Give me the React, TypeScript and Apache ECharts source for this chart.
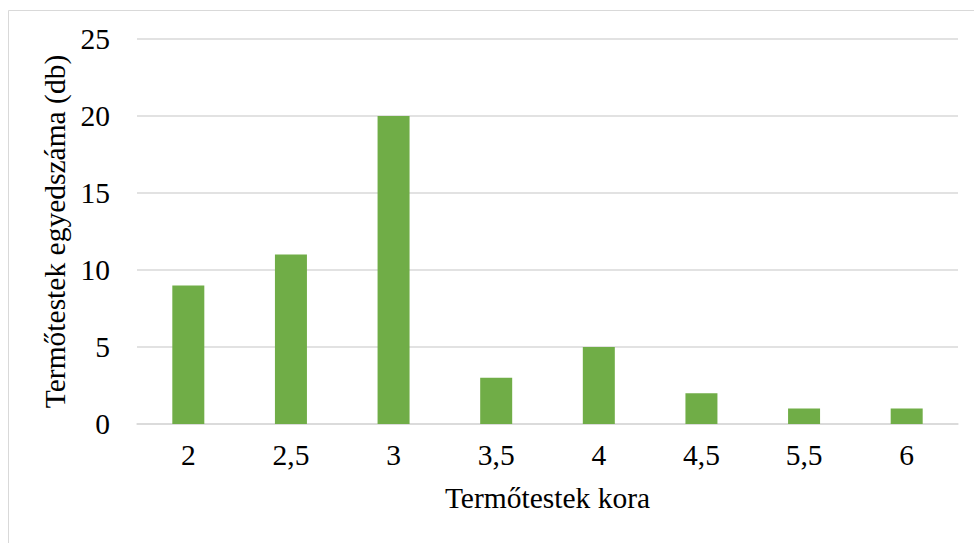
import React, { useEffect, useRef } from "react";
import * as echarts from "echarts";

const categories = ["2", "2,5", "3", "3,5", "4", "4,5", "5,5", "6"];
const values = [9, 11, 20, 3, 5, 2, 1, 1];
const yTicks = { min: 0, max: 25, interval: 5 };

export default function App() {
  const ref = useRef<HTMLDivElement>(null);
  useEffect(() => {
    const chart = echarts.init(ref.current!, null, { renderer: "svg" });
    const font = "'Liberation Serif', 'Times New Roman', serif";
    const fs = 29.5;
    chart.setOption({
      animation: false,
      backgroundColor: "#ffffff",
      textStyle: { fontFamily: font },
      grid: { left: 137, right: 16, top: 39, bottom: 119, containLabel: false },
      graphic: [
        {
          type: "rect",
          shape: { x: 8.5, y: 10.5, width: 1000, height: 1000 },
          style: { fill: "none", stroke: "#d9d9d9", lineWidth: 1 },
          silent: true,
          z: -10,
        },
      ],
      xAxis: {
        type: "category",
        data: categories,
        name: "Termőtestek kora",
        nameLocation: "middle",
        nameGap: 59,
        nameTextStyle: { fontFamily: font, fontSize: fs, color: "#000" },
        axisLine: { lineStyle: { color: "#d9d9d9", width: 1.5 } },
        axisTick: { show: false },
        axisLabel: { fontFamily: font, fontSize: fs, color: "#000", margin: 16 },
      },
      yAxis: {
        type: "value",
        min: yTicks.min,
        max: yTicks.max,
        interval: yTicks.interval,
        name: "Termőtestek egyedszáma (db)",
        nameLocation: "middle",
        nameGap: 62,
        nameRotate: 90,
        nameTextStyle: { fontFamily: font, fontSize: fs, color: "#000" },
        axisLine: { show: false },
        axisTick: { show: false },
        splitLine: { lineStyle: { color: "#d9d9d9", width: 1.5 } },
        axisLabel: { fontFamily: font, fontSize: fs, color: "#000", margin: 27 },
      },
      series: [
        {
          type: "bar",
          data: values,
          barWidth: 32,
          itemStyle: { color: "#70ad47" },
        },
      ],
    });
    return () => chart.dispose();
  }, []);
  return (
    <div
      ref={ref}
      style={{ position: "absolute", left: 0, top: 0, width: 974, height: 543 }}
    />
  );
}
